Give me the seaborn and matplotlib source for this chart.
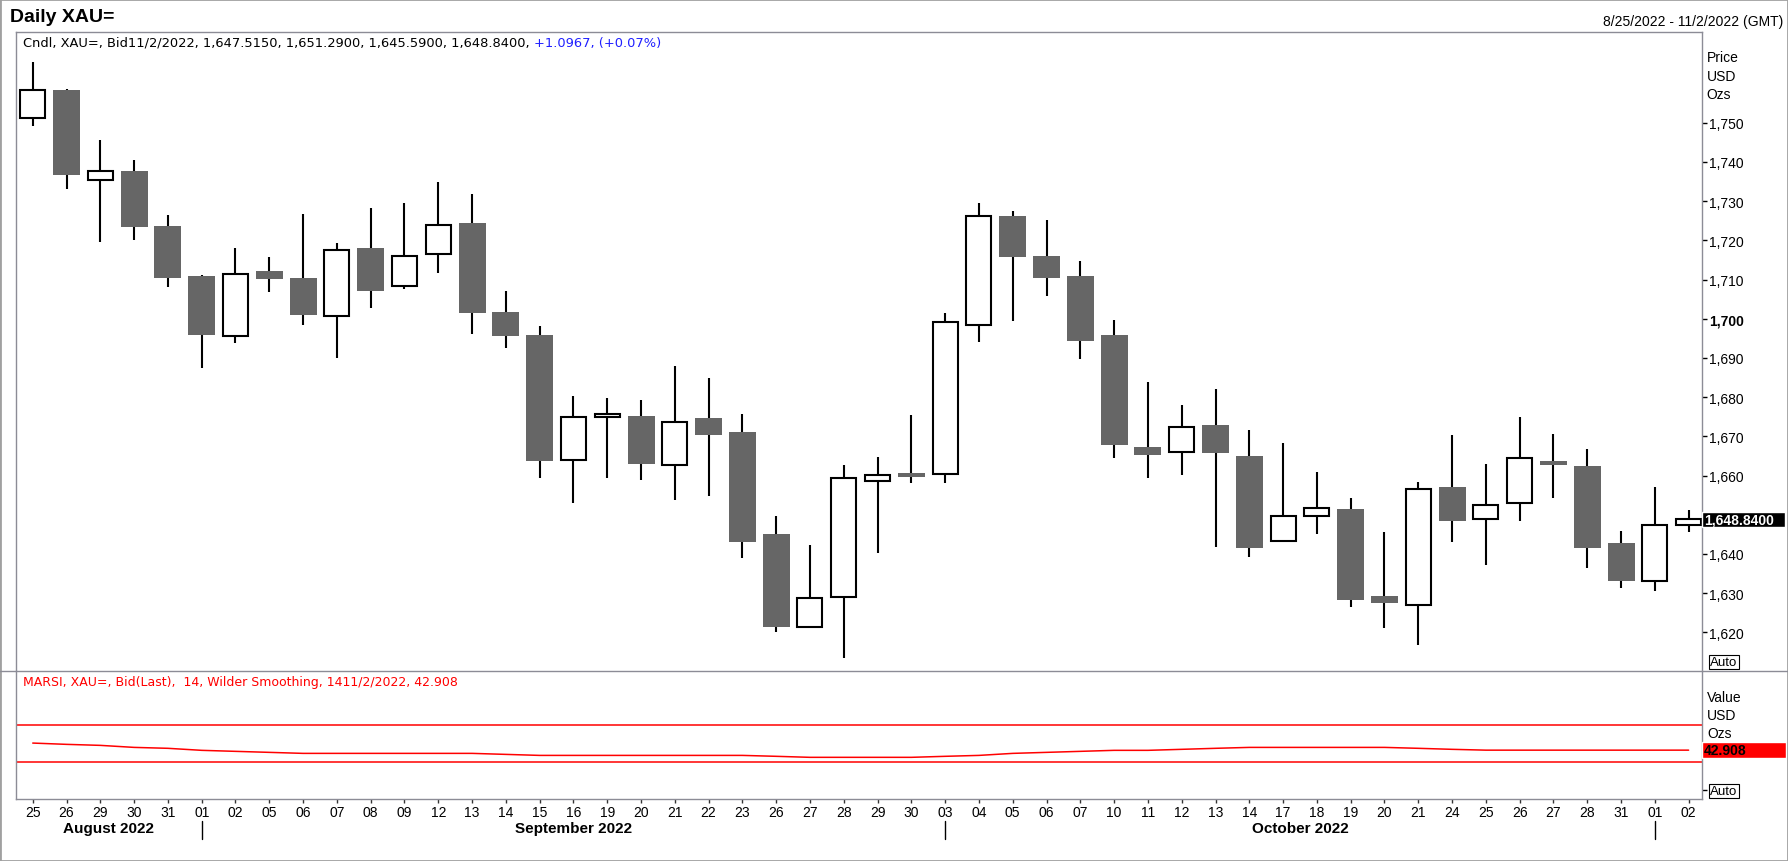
import matplotlib
matplotlib.use('Agg')
import matplotlib.pyplot as plt
import matplotlib.transforms as mtransforms
from matplotlib.patches import Rectangle
from matplotlib.lines import Line2D
import seaborn as sns
import numpy as np

sns.set_style('white')
plt.rcParams['font.family'] = ['Liberation Sans', 'DejaVu Sans']

# trading days shown on the axis
days = ['25', '26', '29', '30', '31',
        '01', '02', '05', '06', '07', '08', '09', '12', '13', '14', '15', '16', '19', '20', '21',
        '22', '23', '26', '27', '28', '29', '30',
        '03', '04', '05', '06', '07', '10', '11', '12', '13', '14', '17', '18', '19', '20', '21',
        '24', '25', '26', '27', '28', '31',
        '01', '02']
month_names = ['August 2022', 'September 2022', 'October 2022']
month_starts = [5, 27, 48]   # index of first trading day of Sep, Oct, Nov

opens = [1751.2, 1758.3, 1735.5, 1737.8, 1723.6, 1710.9, 1695.5, 1712.2, 1710.3, 1700.7,
         1718.0, 1708.4, 1716.4, 1724.3, 1701.6, 1695.8, 1663.9, 1674.9, 1675.1, 1662.7,
         1674.6, 1671.0, 1645.0, 1621.4, 1628.9, 1658.7, 1660.6, 1660.5, 1698.5, 1726.1,
         1715.9, 1710.9, 1695.8, 1667.2, 1666.0, 1672.8, 1665.1, 1643.2, 1649.8, 1651.4,
         1629.2, 1626.9, 1657.0, 1648.8, 1652.9, 1663.6, 1662.4, 1642.7, 1633.1, 1647.515]
highs = [1765.4, 1758.6, 1745.5, 1740.5, 1726.4, 1711.2, 1718.0, 1715.7, 1726.6, 1719.3,
         1728.2, 1729.4, 1735.0, 1731.7, 1707.0, 1698.1, 1680.2, 1679.9, 1679.2, 1687.9,
         1684.8, 1675.8, 1649.6, 1642.2, 1662.6, 1664.7, 1675.4, 1701.4, 1729.4, 1727.6,
         1725.3, 1714.6, 1699.8, 1683.8, 1678.1, 1682.2, 1671.5, 1668.3, 1660.8, 1654.4,
         1645.6, 1658.4, 1670.3, 1662.9, 1674.9, 1670.7, 1666.9, 1645.8, 1657.1, 1651.29]
lows = [1749.2, 1733.1, 1719.6, 1720.0, 1708.2, 1687.5, 1693.9, 1706.9, 1698.5, 1689.9,
        1702.8, 1707.5, 1711.7, 1696.1, 1692.6, 1659.3, 1653.0, 1659.3, 1658.9, 1653.8,
        1654.9, 1639.0, 1620.1, 1621.3, 1613.5, 1640.2, 1658.1, 1658.1, 1694.1, 1699.3,
        1705.9, 1689.7, 1664.4, 1659.3, 1660.2, 1641.8, 1639.2, 1643.2, 1645.1, 1626.5,
        1621.1, 1616.7, 1643.1, 1637.2, 1648.5, 1654.4, 1636.5, 1631.3, 1630.6, 1645.59]
closes = [1758.3, 1736.7, 1737.6, 1723.3, 1710.5, 1695.9, 1711.4, 1710.1, 1701.0, 1717.5,
          1707.1, 1716.1, 1723.9, 1701.5, 1695.6, 1663.7, 1675.0, 1675.7, 1663.0, 1673.6,
          1670.4, 1643.1, 1621.4, 1628.7, 1659.3, 1660.2, 1659.6, 1699.2, 1726.3, 1715.8,
          1710.5, 1694.3, 1667.7, 1665.2, 1672.5, 1665.7, 1641.5, 1649.8, 1651.7, 1628.3,
          1627.6, 1656.6, 1648.4, 1652.4, 1664.5, 1662.8, 1641.5, 1633.1, 1647.5, 1648.84]

rsi = [50.6, 49.2, 48.1, 45.9, 44.9, 42.7, 41.6, 40.5, 39.4, 39.4,
       39.4, 39.4, 39.4, 39.4, 38.3, 37.2, 37.2, 37.2, 37.2, 37.2,
       37.2, 37.2, 36.2, 35.1, 35.1, 35.1, 35.1, 36.2, 37.2, 39.4,
       40.5, 41.6, 42.7, 42.7, 43.8, 44.9, 45.9, 45.9, 45.9, 45.9,
       45.9, 44.9, 43.8, 42.9, 42.9, 42.9, 42.9, 42.9, 42.9, 42.908]
rsi_levels = [70, 30]

price_ticks = list(range(1620, 1751, 10))

# layout in pixels
W, H = 1788, 862
def fx(p): return p / W
def fy(p): return 1 - p / H

left, right = 15.5, 1701.8
top, mid, bot = 33.3, 672.2, 800.2
frame_col = '#8c8c96'

fig = plt.figure(figsize=(W / 100, H / 100), dpi=100)
ax = fig.add_axes([fx(left), fy(mid), fx(right - left), (mid - top) / H])
ax2 = fig.add_axes([fx(left), fy(bot), fx(right - left), (bot - mid) / H], sharex=ax)

o, h, l, c = map(np.array, (opens, highs, lows, closes))
x = np.arange(len(c))
up = c >= o
lo_b = np.minimum(o, c)
ht_b = np.abs(c - o)

# candles
ax.vlines(x, l, h, color='black', lw=1.5, zorder=2)
ax.bar(x[~up], ht_b[~up], bottom=lo_b[~up], width=0.8, color='#666666', lw=0, zorder=3)
ax.bar(x[up], ht_b[up], bottom=lo_b[up], width=0.74, color='white', edgecolor='black', lw=1.5, zorder=3)

ax.set_xlim(-0.51, 49.39)
ax.set_ylim(1610.1, 1773.06)

# the 1,650 label sits under the last-price box, so only its tick is kept
ax.yaxis.tick_right()
ax.set_yticks(price_ticks, labels=['' if v == 1650 else f'{v:,}' for v in price_ticks])
for lbl in ax.get_yticklabels():
    if lbl.get_text() == '1,700':
        lbl.set_fontweight('bold')
ax.tick_params(axis='y', right=True, left=False, direction='out', length=3.3, width=1,
               color='black', labelsize=10, labelcolor='black', pad=2)
ax.tick_params(axis='x', bottom=False, labelbottom=False)

# RSI panel
sns.lineplot(x=x, y=rsi, ax=ax2, color='#ff0000', lw=1.1, legend=False)
for lev in rsi_levels:
    ax2.axhline(lev, color='#ff0000', lw=1.1)
ax2.set_ylim(-10.4, 128.7)
ax2.set_xlabel(''); ax2.set_ylabel('')
ax2.yaxis.tick_right()
ax2.set_yticks([0], labels=[''])
ax2.tick_params(axis='y', right=True, left=False, direction='out', length=3.3, width=1, color='black')
ax2.set_xticks(x, labels=days)
ax2.tick_params(axis='x', bottom=True, direction='out', length=3, width=1, color='#333333',
                labelsize=10, labelcolor='black', pad=1.5)

for a in (ax, ax2):
    for s in a.spines.values():
        s.set_color(frame_col)
        s.set_linewidth(1.0)
ax.spines['bottom'].set_visible(False)
ax2.spines['top'].set_visible(False)

# month labels and separators
trans2 = mtransforms.blended_transform_factory(ax2.transData, fig.transFigure)
bounds = [ax2.get_xlim()[0]] + month_starts
for name, b0, b1 in zip(month_names, bounds[:-1], bounds[1:]):
    ax2.text((b0 + b1) / 2, fy(829), name, transform=trans2, ha='center', va='center',
             fontsize=11, fontweight='bold', color='black')
for b in month_starts:
    ax2.plot([b, b], [fy(822), fy(840)], transform=trans2, color='black', lw=1, clip_on=False)

# last value boxes
tp = mtransforms.blended_transform_factory(ax.transAxes, ax.transData)
px_price = (ax.get_ylim()[1] - ax.get_ylim()[0]) / (mid - top)
ax.add_patch(Rectangle((1.0, c[-1] - 7.7 * px_price), 83.3 / (right - left), 15.4 * px_price,
                       transform=tp, facecolor='black', clip_on=False, zorder=6))
ax.text(1.0 + 2.5 / (right - left), c[-1], f'{c[-1]:,.4f}', transform=tp, color='white',
        fontweight='bold', fontsize=10, va='center', ha='left', zorder=7, clip_on=False)

tr = mtransforms.blended_transform_factory(ax2.transAxes, ax2.transData)
px_rsi = (ax2.get_ylim()[1] - ax2.get_ylim()[0]) / (bot - mid)
ax2.add_patch(Rectangle((1.0, rsi[-1] - 7.85 * px_rsi), 84.2 / (right - left), 15.7 * px_rsi,
                        transform=tr, facecolor='#ff0000', clip_on=False, zorder=6))
ax2.text(1.0 + 1.5 / (right - left), rsi[-1], f'{rsi[-1]:.3f}', transform=tr, color='black',
         fontweight='bold', fontsize=10, va='center', ha='left', zorder=7, clip_on=False)

# header and side texts
fig.text(fx(10.5), fy(17.5), 'Daily XAU=', fontsize=14, fontweight='bold', va='center', color='black')
fig.text(fx(1783), fy(21.7), '8/25/2022 - 11/2/2022 (GMT)', fontsize=10, ha='right', va='center', color='black')
t1 = fig.text(fx(23), fy(43.3), 'Cndl, XAU=, Bid11/2/2022, 1,647.5150, 1,651.2900, 1,645.5900, 1,648.8400, ',
              fontsize=9.4, family='DejaVu Sans', va='center', color='black')
ax.annotate('+1.0967, (+0.07%)', xy=(1, 0), xycoords=t1, va='bottom', ha='left',
            fontsize=9.4, family='DejaVu Sans', color='#2020ff', annotation_clip=False)
fig.text(fx(23), fy(682.7), 'MARSI, XAU=, Bid(Last),  14, Wilder Smoothing, 1411/2/2022, 42.908',
         fontsize=9, family='DejaVu Sans', va='center', color='#ff0000')

for txt, yy in zip(['Price', 'USD', 'Ozs'], [58.3, 76.7, 94.7]):
    fig.text(fx(1706.7), fy(yy), txt, fontsize=10, va='center', color='black')
for txt, yy in zip(['Value', 'USD', 'Ozs'], [697.7, 715.8, 733.9]):
    fig.text(fx(1707), fy(yy), txt, fontsize=10, va='center', color='black')
for yy in [663.3, 791.7]:
    fig.text(fx(1724), fy(yy), 'Auto', fontsize=9.5, ha='center', va='center', color='black',
             bbox=dict(boxstyle='square,pad=0.08', fc='white', ec='black', lw=0.8))

# panel separator and outer frame
fig.add_artist(Line2D([0, 1], [fy(mid), fy(mid)], transform=fig.transFigure, color=frame_col, lw=1.0))
fig.add_artist(Rectangle((0, 0), 1, 1, transform=fig.transFigure, fill=False, ec='#a0a0a0', lw=2))

fig.savefig('out.png', dpi=100, facecolor='white')
